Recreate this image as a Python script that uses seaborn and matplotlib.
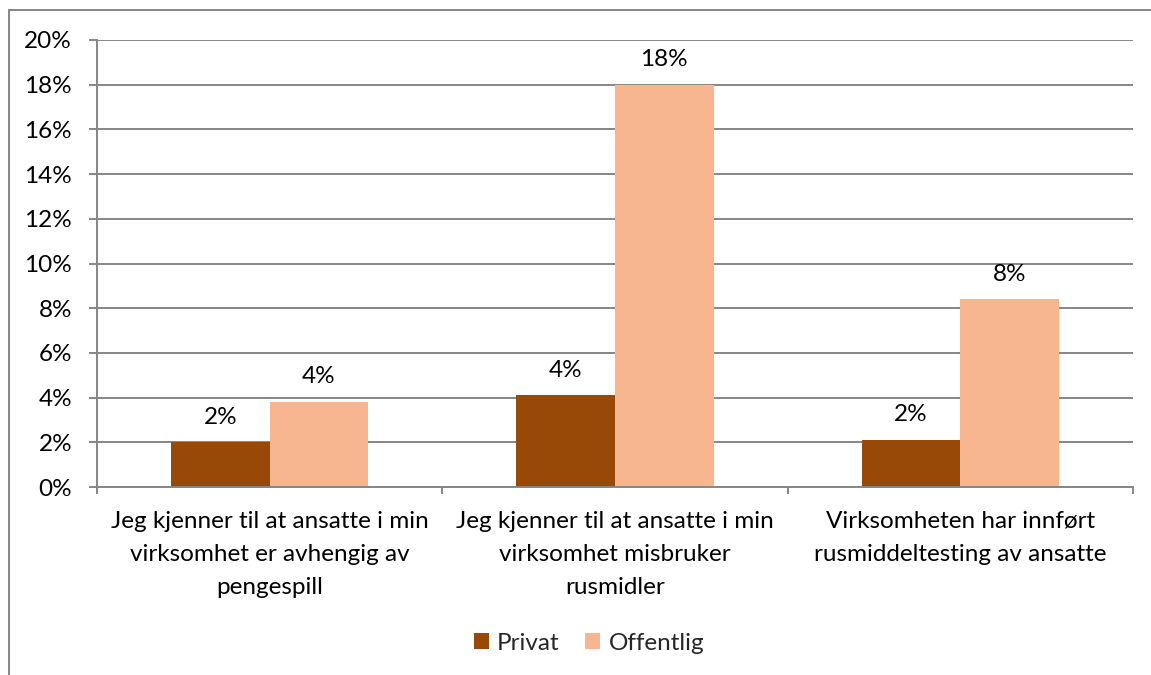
import matplotlib
matplotlib.use("Agg")
import matplotlib.pyplot as plt
import seaborn as sns
import pandas as pd
from matplotlib.patches import Rectangle, Patch

categories = [
    "Jeg kjenner til at ansatte i min\nvirksomhet er avhengig av\npengespill",
    "Jeg kjenner til at ansatte i min\nvirksomhet misbruker\nrusmidler",
    "Virksomheten har innført\nrusmiddeltesting av ansatte",
]
series = ["Privat", "Offentlig"]
privat = [2.0, 4.1, 2.1]
offentlig = [3.8, 18.0, 8.4]
yticks = [0, 2, 4, 6, 8, 10, 12, 14, 16, 18, 20]
colors = ["#984807", "#F8B690"]

df = pd.DataFrame({
    "cat": categories * 2,
    "serie": [series[0]] * 3 + [series[1]] * 3,
    "val": privat + offentlig,
})

sns.set_theme(style="white")
plt.rcParams["font.family"] = ["Lato", "DejaVu Sans"]
FS = 17.5

W, H = 1151, 675
fig = plt.figure(figsize=(W / 100, H / 100), dpi=100)
ax = fig.add_axes([97 / W, 1 - 487 / H, (1133 - 97) / W, (487 - 40) / H])

sns.barplot(data=df, x="cat", y="val", hue="serie", palette=colors,
            width=0.571, gap=0, ax=ax, legend=False, saturation=1,
            linewidth=0, edgecolor="none")

ax.set_xlim(-0.5, 2.5)
ax.set_ylim(0, 20)
ax.set_yticks(yticks)
ax.set_yticklabels([f"{v}%" for v in yticks], fontsize=FS)
ax.yaxis.grid(True, color="#868686", linewidth=1.4)
ax.set_axisbelow(True)
ax.set_xlabel("")
ax.set_ylabel("")

for s in ["top", "right"]:
    ax.spines[s].set_visible(False)
for s in ["left", "bottom"]:
    ax.spines[s].set_color("#868686")
    ax.spines[s].set_linewidth(1.4)

ax.tick_params(axis="y", which="major", length=6, width=1.4, color="#868686",
               pad=12, left=True, labelcolor="black")
ax.set_xticks([0, 1, 2])
ax.set_xticklabels(categories, fontsize=FS, linespacing=1.72)
ax.tick_params(axis="x", which="major", length=0, pad=17, labelcolor="black")
ax.set_xticks([-0.5, 0.5, 1.5, 2.5], minor=True)
ax.tick_params(axis="x", which="minor", length=5, width=1.4, color="#868686",
               bottom=True)

for cont in ax.containers:
    for bar in cont:
        h = bar.get_height()
        ax.annotate(f"{h:.0f}%", (bar.get_x() + bar.get_width() / 2, h),
                    xytext=(0, 13.5), textcoords="offset points",
                    ha="center", va="baseline", fontsize=FS, color="black")

handles = [Patch(facecolor=c, edgecolor="none") for c in colors]
fig.legend(handles, series, loc="center", bbox_to_anchor=(589 / W, 1 - 643 / H),
           ncol=2, frameon=False, fontsize=FS, handlelength=0.62,
           handleheight=0.62, handletextpad=0.35, columnspacing=1.05)

fig.patches.append(Rectangle((9 / W, -0.1), 1.2, 1 - 10 / H + 0.1,
                             transform=fig.transFigure, fill=False,
                             edgecolor="#868686", linewidth=1.4))

fig.savefig("out.png", dpi=100, facecolor="white")
